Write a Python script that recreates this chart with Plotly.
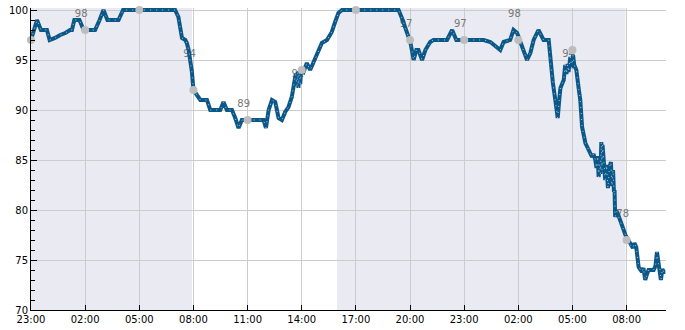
import datetime as dt
import plotly.graph_objects as go

START = dt.datetime(2024, 1, 1, 23, 0)

# Series: minutes after 23:00 and value
minutes = [0, 20, 33, 53, 62, 80, 97, 114, 130, 136, 144, 161, 175, 213, 228, 241, 254, 291, 306,
           479, 490, 496, 502, 513, 518, 524, 529, 535, 540, 552, 563, 585, 596, 629, 640, 651, 668,
           679, 690, 701, 773, 781, 790, 801, 812, 823, 834, 845, 856, 867, 873, 880, 884, 887, 889,
           892, 895, 898, 906, 917, 928, 939, 951, 967, 984, 1000, 1011, 1022, 1034,
           1222, 1233, 1244, 1255, 1261, 1266, 1272, 1281, 1288, 1300, 1311, 1327, 1338, 1383, 1400,
           1414, 1505, 1527, 1560, 1571, 1593, 1604, 1616, 1627, 1638, 1649, 1660, 1671, 1687, 1704,
           1721, 1726, 1735, 1743, 1751, 1756, 1760, 1771, 1776, 1780, 1784, 1787, 1793, 1797, 1802,
           1806, 1813, 1820, 1826, 1832, 1843, 1854, 1865, 1870, 1876, 1880, 1884, 1887, 1891, 1893,
           1896, 1898, 1900, 1904, 1909, 1913, 1918, 1923, 1928, 1931, 1935, 1938, 1940, 1942, 1946,
           1950, 1959, 1968, 1976, 1985, 1992, 2001, 2006, 2012, 2020, 2031, 2036, 2042, 2048, 2053,
           2070, 2076, 2081, 2086, 2090, 2094, 2099, 2103, 2109]
values = [97, 99, 98, 98, 97, 97.2, 97.5, 97.7, 98, 98, 99, 99, 98, 98, 99, 100, 99, 99, 100,
          100, 99.3, 98.3, 97.2, 97, 96.7, 96, 95, 93.8, 92, 91.5, 91, 91, 90, 90, 90.8, 90, 90,
          89.2, 88.2, 89, 89, 88.2, 90, 91, 90.8, 89.2, 89, 89.8, 90.3, 91.3, 92.3, 93.6, 92.4, 93.8, 92.2,
          93.9, 92.6, 94, 93.8, 94.7, 94, 94.7, 95.5, 96.7, 97, 97.8, 98.8, 99.7, 100,
          100, 99.2, 98.2, 97.2, 96.8, 96, 95, 96, 96, 95, 96, 96.8, 97, 97, 98,
          97, 97, 96.8, 96, 96.8, 97, 98, 97.7, 96.8, 95.8, 95, 95.7, 97, 98, 97,
          97, 95, 92.7, 91, 89.2, 91, 92.2, 93, 94.5, 93.6, 94.6, 93.8, 95.3, 94.2, 95.5,
          94.5, 94, 92.3, 91, 88.3, 86.7, 86, 85.3, 85.6, 85, 84.2, 85.4, 83.3, 84.6, 83.6,
          86.8, 84, 86.5, 85, 83, 84.5, 82.2, 84.3, 84.8, 82.4, 84, 81.8, 82, 79.3, 79.9,
          79.7, 78.8, 78.2, 77.5, 77, 76.5, 76.2, 76.7, 76.3, 74.3, 73.8, 74.2, 73, 73.6, 74,
          74, 74.4, 75.8, 74.6, 74.3, 73, 74.1, 73.8, 73.8]

# Reference markers (every 3 hours) and their labels
marker_minutes = [0, 180, 360, 540, 720, 900, 1080, 1260, 1440, 1620, 1800, 1980]
marker_values = [97, 98, 100, 92, 89, 94, 100, 97, 97, 97, 96, 77]
label_minutes = [180, 540, 720, 900, 1260, 1440, 1620, 1800, 1980]
label_values = [98, 94, 89, 92, 97, 97, 98, 94, 78]
label_texts = ["98", "94", "89", "92", "97", "97", "98", "94", "78"]

# Night shading intervals (minutes after 23:00)
shade_start = [0, 1017]
shade_end = [535, 1976]

x_end_minutes = 2111


def to_dt(m):
    return START + dt.timedelta(minutes=m)


xs = [to_dt(m) for m in minutes]
LINE = "#0b5788"

fig = go.Figure()

# labels (drawn beneath the line)
fig.add_trace(go.Scatter(
    x=[to_dt(m - 13) for m in label_minutes],
    y=[v + 1.55 for v in label_values],
    mode="text", text=label_texts,
    textfont=dict(family="DejaVu Sans", size=10, color="#777777"),
    textposition="middle center", hoverinfo="skip", cliponaxis=True,
))

fig.add_trace(go.Scatter(
    x=xs, y=values, mode="lines",
    line=dict(color=LINE, width=4), hoverinfo="skip",
))
fig.add_trace(go.Scatter(
    x=xs, y=values, mode="lines",
    line=dict(color="rgba(200,220,238,0.85)", width=1, dash="1px,5px"), hoverinfo="skip",
))

fig.add_trace(go.Scatter(
    x=[to_dt(m) for m in marker_minutes], y=marker_values, mode="markers",
    marker=dict(color="#bdbdbd", size=8), cliponaxis=False, hoverinfo="skip",
))

for s, e in zip(shade_start, shade_end):
    fig.add_shape(type="rect", xref="x", yref="paper", x0=to_dt(s), x1=to_dt(e),
                  y0=0, y1=1, fillcolor="#eaeaf2", line=dict(width=0), layer="below")

fig.update_layout(
    width=685, height=330,
    margin=dict(l=31, r=19, t=8, b=20, autoexpand=False),
    paper_bgcolor="white", plot_bgcolor="white",
    showlegend=False,
    font=dict(family="DejaVu Sans", size=10, color="black"),
)
fig.update_xaxes(
    type="date", range=[to_dt(0), to_dt(x_end_minutes)],
    tick0=to_dt(0), dtick=3 * 3600 * 1000, tickformat="%H:%M",
    showgrid=True, gridcolor="#cccccc", gridwidth=1,
    showline=True, linecolor="black", linewidth=1,
    ticks="inside", ticklen=5, tickcolor="black",
    zeroline=False, tickfont=dict(size=10), automargin=False,
)
fig.update_yaxes(
    range=[70, 100.2], tick0=70, dtick=5,
    showgrid=True, gridcolor="#cccccc", gridwidth=1,
    showline=True, linecolor="black", linewidth=1,
    ticks="inside", ticklen=6, tickcolor="black",
    minor=dict(dtick=1, ticks="inside", ticklen=4, tickcolor="black", showgrid=False),
    zeroline=False, tickfont=dict(size=10), automargin=False,
)

fig.write_html("out.html")
